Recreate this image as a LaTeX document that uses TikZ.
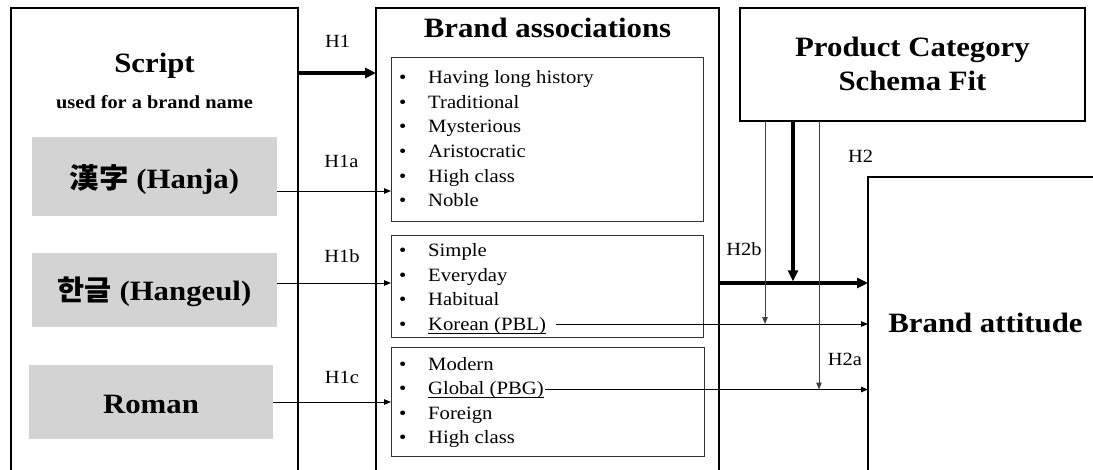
\documentclass[tikz,border=0pt]{standalone}
\usepackage{fontspec}
\setmainfont{Liberation Serif}[FakeStretch=1.1]
\newfontfamily\kr{Noto Sans CJK KR}[FakeStretch=1.05]
\usetikzlibrary{arrows.meta}
\definecolor{grayfill}{RGB}{211,211,211}
\newcommand{\ulx}[1]{\setbox0\hbox{#1}\rlap{\rule[-3pt]{\wd0}{0.8pt}}\box0}
\begin{document}
\begin{tikzpicture}[x=1pt,y=-1pt,
  outerbox/.style={draw, line width=1.8pt, inner sep=0pt, outer sep=0pt},
  innerbox/.style={draw=black!80, line width=1pt, inner sep=0pt, outer sep=0pt},
  graybox/.style={fill=grayfill, inner sep=0pt, outer sep=0pt},
  hdr/.style={font=\bfseries\fontsize{28}{34}\selectfont, inner sep=0pt, anchor=base},
  subhdr/.style={font=\bfseries\fontsize{18.5}{22}\selectfont, inner sep=0pt, anchor=base},
  itemtext/.style={font=\fontsize{18.8}{22}\selectfont, anchor=base west, inner sep=0pt},
  hlabel/.style={font=\fontsize{18.6}{22}\selectfont, anchor=base, inner sep=0pt},
  thinarrow/.style={line width=1pt, -{Triangle[length=7pt,width=5.5pt]}},
  thickarrow/.style={line width=3.5pt, -{Triangle[length=11pt,width=10pt]}}]
\useasboundingbox (0,0) rectangle (1093,469);
\clip (0,0) rectangle (1093,469);

% main boxes
\node[outerbox, minimum width=287pt, minimum height=472pt] (script) at (154.5,244) {};
\node[outerbox, minimum width=343pt, minimum height=472pt] (assoc) at (547.5,244) {};
\node[outerbox, minimum width=345pt, minimum height=113pt] (pc) at (912.5,64.5) {};
\node[outerbox, minimum width=242pt, minimum height=303pt] (att) at (989,328.5) {};

% inner boxes
\node[innerbox, minimum width=312pt, minimum height=164pt] (g1) at (547,139) {};
\node[innerbox, minimum width=312pt, minimum height=102pt] (g2) at (547,286) {};
\node[innerbox, minimum width=313pt, minimum height=109pt] (g3) at (547.5,401.5) {};

% gray script boxes
\node[graybox, minimum width=245pt, minimum height=79pt] (hanja) at (154.5,176.5) {};
\node[graybox, minimum width=245pt, minimum height=74pt] (hangeul) at (154.5,290) {};
\node[graybox, minimum width=244pt, minimum height=74pt] (roman) at (151,402) {};

% headings
\node[hdr] (tscript) at (154.5,72) {Script};
\node[subhdr] (tused) at (154.5,108) {used for a brand name};
\node[hdr] (thanja) at ([yshift=-11.5pt]hanja.center) {{\kr 漢字} (Hanja)};
\node[hdr] (thangeul) at ([yshift=-10pt]hangeul.center) {{\kr 한글} (Hangeul)};
\node[hdr] (troman) at ([yshift=-11pt]roman.center) {Roman};
\node[hdr] (tassoc) at (547.5,37) {Brand associations};
\node[hdr] (tpc1) at (912.5,56) {Product Category};
\node[hdr] (tpc2) at (912.5,90) {Schema Fit};
\node[hdr] (tatt) at (985.5,332) {Brand attitude};

% items
\newcommand{\bul}{\makebox[29pt][l]{\textbullet}}
\node[itemtext] (i1) at (399,83.3) {\bul Having long history};
\node[itemtext] (i2) at (399,108) {\bul Traditional};
\node[itemtext] (i3) at (399,132.7) {\bul Mysterious};
\node[itemtext] (i4) at (399,157.4) {\bul Aristocratic};
\node[itemtext] (i5) at (399,182) {\bul High class};
\node[itemtext] (i6) at (399,206.7) {\bul Noble};
\node[itemtext] (j1) at (399,256) {\bul Simple};
\node[itemtext] (j2) at (399,281) {\bul Everyday};
\node[itemtext] (j3) at (399,305.8) {\bul Habitual};
\node[itemtext] (kor) at (399,330.7) {\bul \ulx{Korean (PBL)}};
\node[itemtext] (k1) at (399,370) {\bul Modern};
\node[itemtext] (glob) at (399,394.5) {\bul \ulx{Global (PBG)}};
\node[itemtext] (k3) at (399,419) {\bul Foreign};
\node[itemtext] (k4) at (399,443.3) {\bul High class};

% hypothesis labels
\node[hlabel] (lh1) at (337.5,47) {H1};
\node[hlabel] (lh1a) at (341.5,167) {H1a};
\node[hlabel] (lh1b) at (342,262) {H1b};
\node[hlabel] (lh1c) at (342,383) {H1c};
\node[hlabel] (lh2) at (860.5,162) {H2};
\node[hlabel] (lh2b) at (744,255) {H2b};
\node[hlabel] (lh2a) at (845,365) {H2a};

% H1 connectors
\draw[thickarrow] ([yshift=-65pt]script.north east) -- ([yshift=-65pt]assoc.north west);
\draw[thinarrow] ([yshift=-14.5pt]hanja.east) -- ([yshift=-14.5pt]hanja.east -| g1.west);
\draw[thinarrow] ([yshift=7pt]hangeul.east) -- ([yshift=7pt]hangeul.east -| g2.west);
\draw[thinarrow] (roman.east) -- (roman.east -| g3.west);

% lines to brand attitude
\coordinate (korstart) at ([shift={(10pt,6.7pt)}]kor.base east);
\coordinate (globstart) at ([shift={(1pt,5pt)}]glob.base east);
\coordinate (hs) at ([yshift=-39pt]assoc.east);
\draw[thinarrow] (korstart) -- (korstart -| att.west);
\draw[thinarrow] (globstart) -- (globstart -| att.west);
\draw[thickarrow] (hs) -- (hs -| att.west);

% H2 connectors
\draw[thickarrow, shorten >=1.7pt] ([xshift=53pt]pc.south west) -- ([xshift=53pt]pc.south west |- hs);
\draw[thinarrow, draw=black!75] ([xshift=25pt]pc.south west) -- ([xshift=25pt]pc.south west |- korstart);
\draw[thinarrow, draw=black!75] ([xshift=79pt]pc.south west) -- ([xshift=79pt]pc.south west |- globstart);
\end{tikzpicture}
\end{document}
